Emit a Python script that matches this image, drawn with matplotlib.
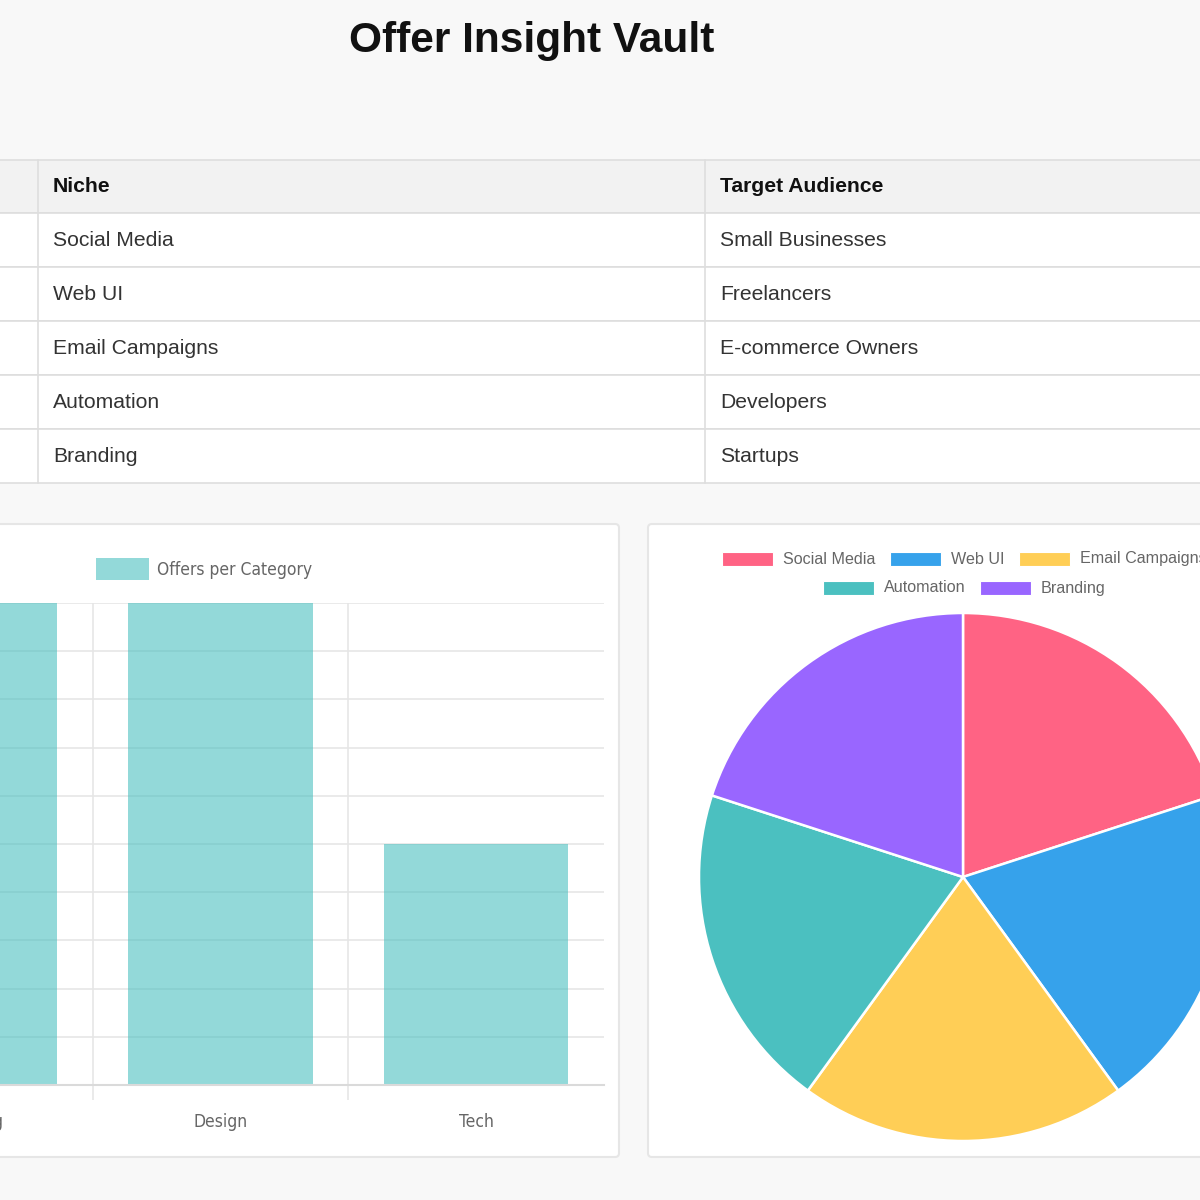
import matplotlib
matplotlib.use("Agg")
import matplotlib.pyplot as plt
from matplotlib.patches import Rectangle, FancyBboxPatch

# %% data
# ----------------------------------------------------------------------
title = "Offer Insight Vault"
table_headers = ["", "Niche", "Target Audience"]
niches = ["Social Media", "Web UI", "Email Campaigns", "Automation", "Branding"]
audiences = ["Small Businesses", "Freelancers", "E-commerce Owners", "Developers", "Startups"]

bar_label = "Offers per Category"
bar_categories = ["Marketing", "Design", "Tech"]
bar_values = [2, 2, 1]

pie_values = [1, 1, 1, 1, 1]
pie_colors = ["#FF6384", "#36A2EB", "#FFCE56", "#4BC0C0", "#9966FF"]

# %% page in pixel coords
# ----------------------------------------------------------------------
W, H = 1200, 1200
fig = plt.figure(figsize=(12, 12), dpi=100)
fig.patch.set_facecolor("#F8F8F8")

page = fig.add_axes([0, 0, 1, 1])
page.set_xlim(0, W)
page.set_ylim(H, 0)
page.axis("off")
page.set_zorder(0)

def px(x, y, w, h):
    # pixel box (top-left origin) -> figure fraction
    return [x / W, 1 - (y + h) / H, w / W, h / H]

sans = ["Liberation Sans", "DejaVu Sans"]
# chart canvas text looks squeezed, use the condensed face
narrow = dict(family="DejaVu Sans", stretch="condensed")

page.text(532, 41, title, ha="center", va="center", fontsize=30.5,
          fontweight="bold", family=sans, color="#111111")

# table
col_x = [-120, 38, 705, 1400]
row_top = 160
row_h = [53] + [54] * len(niches)
y = row_top
for r in range(len(row_h)):
    bg = "#F2F2F2" if r == 0 else "white"
    page.add_patch(Rectangle((col_x[0], y), col_x[-1] - col_x[0], row_h[r],
                             facecolor=bg, edgecolor="#DEDEDE", lw=1.2))
    for c in range(1, 3):
        page.plot([col_x[c], col_x[c]], [y, y + row_h[r]], color="#DEDEDE", lw=1.2)
    if r == 0:
        cells = table_headers
        kw = dict(fontweight="bold", color="#111111")
    else:
        cells = ["", niches[r - 1], audiences[r - 1]]
        kw = dict(color="#333333")
    for c in range(1, 3):
        page.text(col_x[c] + 15, y + row_h[r] / 2, cells[c], ha="left", va="center",
                  fontsize=15.2, family=sans, **kw)
    y += row_h[r]

# cards
page.add_patch(FancyBboxPatch((-40, 524), 659, 633, boxstyle="round,pad=0,rounding_size=4",
                              facecolor="white", edgecolor="#E6E6E6", lw=1.5))
page.add_patch(FancyBboxPatch((648, 524), 640, 633, boxstyle="round,pad=0,rounding_size=4",
                              facecolor="white", edgecolor="#E6E6E6", lw=1.5))

# %% bar chart
# ----------------------------------------------------------------------
ax = fig.add_axes(px(-163, 603, 767, 482))
ax.set_zorder(2)
ax.patch.set_alpha(0)
xs = range(len(bar_categories))
ax.bar(xs, bar_values, width=0.72, color="#4BC0C0", alpha=0.6, label=bar_label, zorder=2)
ax.set_xlim(-0.5, len(bar_categories) - 0.5)
ax.set_ylim(0, max(bar_values))
ax.set_yticks([i * 0.2 for i in range(11)])
ax.set_yticklabels([])
ax.set_xticks(list(xs))
ax.set_xticklabels(bar_categories, fontsize=12.5, color="#666666", **narrow)
ax.set_xticks([i + 0.5 for i in range(len(bar_categories) - 1)], minor=True)
ax.tick_params(axis="x", which="major", length=0, pad=20)
ax.tick_params(axis="x", which="minor", length=11, color="#E6E6E6", width=1.2)
ax.tick_params(axis="y", length=0)
ax.grid(axis="y", color="#E6E6E6", lw=1.2, zorder=0)
ax.grid(axis="x", which="minor", color="#E6E6E6", lw=1.2, zorder=0)
for s in ["top", "right", "left"]:
    ax.spines[s].set_visible(False)
ax.spines["bottom"].set_color("#DADADA")
ax.spines["bottom"].set_linewidth(1.5)
ax.legend(loc="center", bbox_to_anchor=(367 / 767, 1 + 34 / 482), frameon=False,
          handlelength=3.1, handleheight=1.55, handletextpad=0.45,
          prop=dict(size=12.5, **narrow), labelcolor="#666666")

# %% pie chart
# ----------------------------------------------------------------------
R = 264
pax = fig.add_axes(px(963 - R, 877 - R, 2 * R, 2 * R))
pax.set_zorder(2)
pax.pie(pie_values, colors=pie_colors, startangle=90, counterclock=False, radius=1,
        wedgeprops=dict(edgecolor="white", linewidth=1.8))
pax.set_xlim(-1, 1)
pax.set_ylim(-1, 1)
pax.set_aspect("equal")
pax.axis("off")

# pie legend, two centred rows like chart.js
leg_pos = [(722, 559), (890, 559), (1019, 559), (823, 588), (980, 588)]
for (lx, ly), name, col in zip(leg_pos, niches, pie_colors):
    page.add_patch(Rectangle((lx, ly - 7), 51, 14, facecolor=col, edgecolor="white", lw=0.8,
                             zorder=3))
    page.text(lx + 61, ly, name, ha="left", va="center", fontsize=11.6, family=sans,
              color="#666666", zorder=3)

fig.savefig("out.png", dpi=100)
